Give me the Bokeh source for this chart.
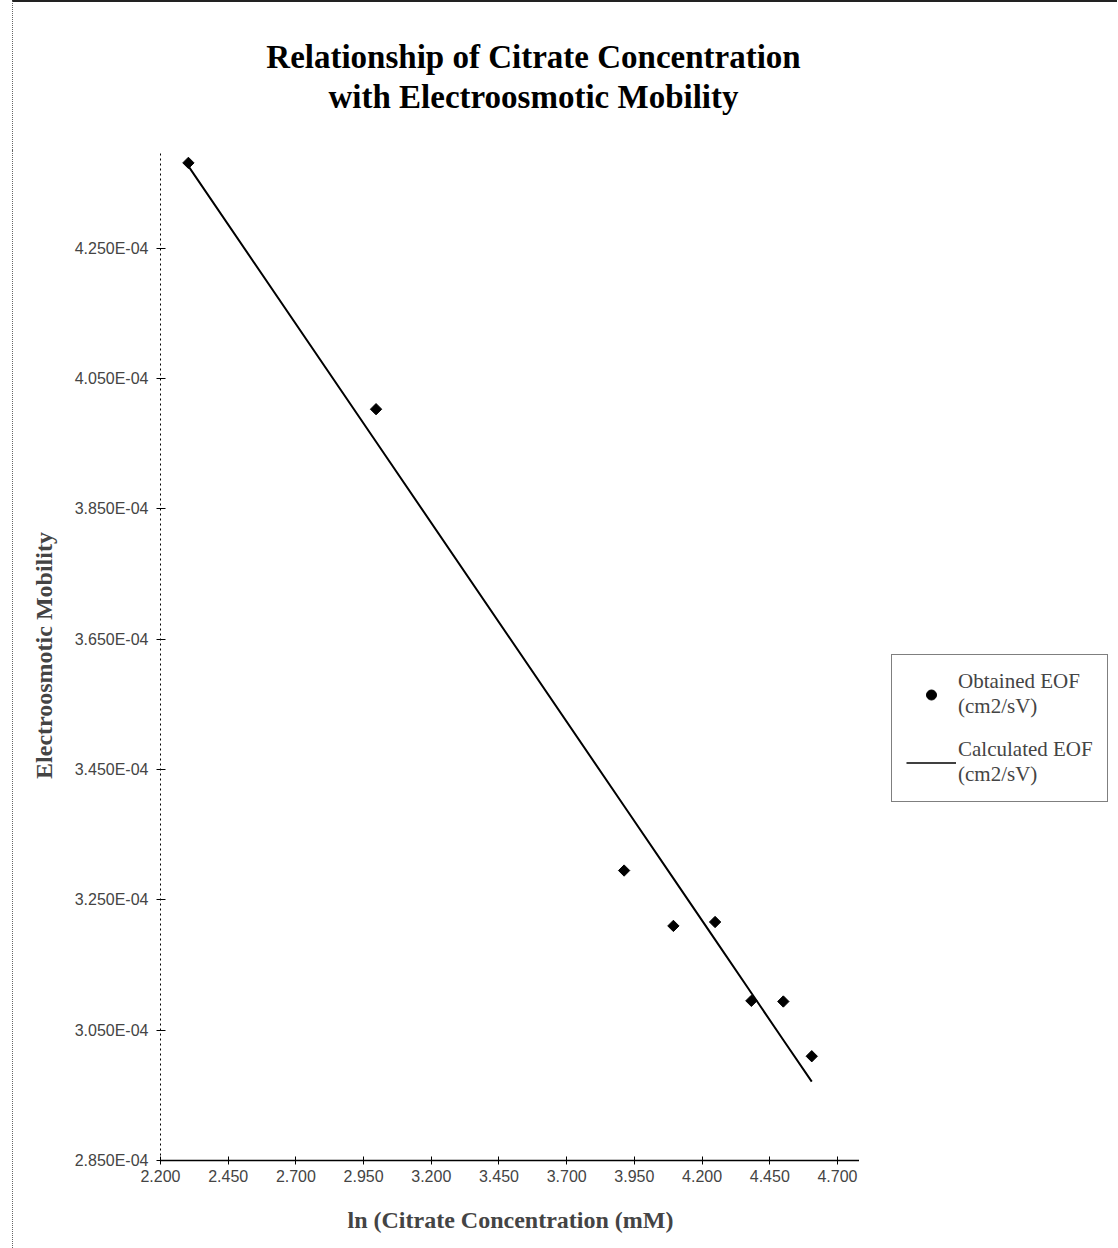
from bokeh.plotting import figure
from bokeh.layouts import row, column
from bokeh.core.properties import value
from bokeh.models import Range1d, FixedTicker, CustomJSTickFormatter, Legend, LegendItem
from bokeh.embed import file_html
from bokeh.resources import INLINE

# ln of citrate concentration (10, 20, 50, 60, 70, 80, 90, 100 mM)
ln_conc = [2.303, 2.996, 3.912, 4.094, 4.248, 4.382, 4.500, 4.605]
# measured electroosmotic mobility, cm2/sV
eof_obtained = [4.381e-4, 4.003e-4, 3.295e-4, 3.210e-4, 3.216e-4, 3.095e-4, 3.094e-4, 3.010e-4]
# mobility from the fitted relation, cm2/sV
eof_calculated = [4.376e-4, 3.953e-4, 3.394e-4, 3.283e-4, 3.189e-4, 3.107e-4, 3.035e-4, 2.971e-4]

x_ticks = [2.200, 2.450, 2.700, 2.950, 3.200, 3.450, 3.700, 3.950, 4.200, 4.450, 4.700]
y_ticks = [2.850e-4, 3.050e-4, 3.250e-4, 3.450e-4, 3.650e-4, 3.850e-4, 4.050e-4, 4.250e-4]

title_lines = ["Relationship of Citrate Concentration", "with Electroosmotic Mobility"]

SERIF = "Liberation Serif"
SANS = "Liberation Sans"


def bare(fig):
    fig.outline_line_color = None
    fig.xgrid.visible = False
    fig.ygrid.visible = False
    fig.background_fill_color = "white"
    fig.border_fill_color = "white"


# heading strip; its frame lines up with the chart frame below
head = figure(width=1105, height=150, x_range=Range1d(0, 700), y_range=Range1d(0, 150),
              output_backend="svg", toolbar_location=None, title=None,
              x_axis_location=None, y_axis_location=None,
              min_border_left=147, min_border_right=258, min_border_top=0, min_border_bottom=0)
head.styles = {"margin-left": "12px", "border-left": "1px dotted #666", "border-top": "2px solid #222"}
bare(head)
head.text(x=[373, 373], y=[96, 56], text=title_lines,
          text_font=value(SERIF), text_font_size="33px", text_font_style="bold",
          text_align="center", text_baseline="middle", text_color="black")

p = figure(
    width=847, height=1098,
    x_range=Range1d(2.2, 4.785), y_range=Range1d(2.85e-4, 4.40e-4),
    output_backend="svg", toolbar_location=None, title=None,
    min_border_left=147, min_border_right=0, min_border_top=0, min_border_bottom=88,
)
p.styles = {"margin-left": "12px", "border-left": "1px dotted #666"}
bare(p)

# x axis
xa = p.xaxis[0]
xa.ticker = FixedTicker(ticks=x_ticks)
xa.formatter = CustomJSTickFormatter(code="return tick.toFixed(3);")
xa.axis_line_color = "black"
xa.axis_line_width = 1.5
xa.major_tick_in = 4
xa.major_tick_out = 4
xa.minor_tick_line_color = None
xa.major_label_text_font = SANS
xa.major_label_text_font_size = "16px"
xa.major_label_standoff = 5
xa.axis_label = "ln (Citrate Concentration (mM)"
xa.axis_label_text_font = SERIF
xa.axis_label_text_font_style = "bold"
xa.axis_label_text_font_size = "24px"
xa.axis_label_standoff = 22

# y axis
ya = p.yaxis[0]
ya.ticker = FixedTicker(ticks=y_ticks)
ya.formatter = CustomJSTickFormatter(code="return tick.toExponential(3).replace('e-', 'E-0');")
ya.axis_line_color = "black"
ya.axis_line_width = 1
ya.axis_line_dash = "2 3"
ya.major_tick_in = 5
ya.major_tick_out = 4
ya.minor_tick_line_color = None
ya.major_label_text_font = SANS
ya.major_label_text_font_size = "16px"
ya.major_label_standoff = 8
ya.axis_label = "Electroosmotic Mobility"
ya.axis_label_text_font = SERIF
ya.axis_label_text_font_style = "bold"
ya.axis_label_text_font_size = "24px"
ya.axis_label_standoff = 15

# fitted line and measured points
p.line(ln_conc, eof_calculated, line_color="black", line_width=2)
p.scatter(ln_conc, eof_obtained, marker="square", angle=0.785398, size=8,
          fill_color="black", line_color="black")

# side panel holding the legend (its ranges keep the series out of view)
q = figure(width=258, height=1098, x_range=Range1d(-10, -9), y_range=Range1d(-10, -9),
           output_backend="svg", toolbar_location=None, title=None,
           x_axis_location=None, y_axis_location=None,
           min_border_left=0, min_border_right=0, min_border_top=0, min_border_bottom=0)
bare(q)

key_pts = q.scatter(ln_conc, eof_obtained, marker="circle", fill_color="black", line_color="black")
key_line = q.line(ln_conc, eof_calculated, line_color="black", line_width=1.5)

legend = Legend(
    items=[LegendItem(label="Obtained EOF\n(cm2/sV)", renderers=[key_pts]),
           LegendItem(label="Calculated EOF\n(cm2/sV)", renderers=[key_line])],
    location=(32, 358),
    border_line_color="black", border_line_width=1,
    background_fill_alpha=0,
    label_text_font=SERIF, label_text_font_size="21px",
    glyph_width=50, glyph_height=25, label_standoff=2,
    padding=14, spacing=18, margin=0,
)
q.add_layout(legend, "center")

open("out.html", "w").write(file_html(column(head, row(p, q)), INLINE))
